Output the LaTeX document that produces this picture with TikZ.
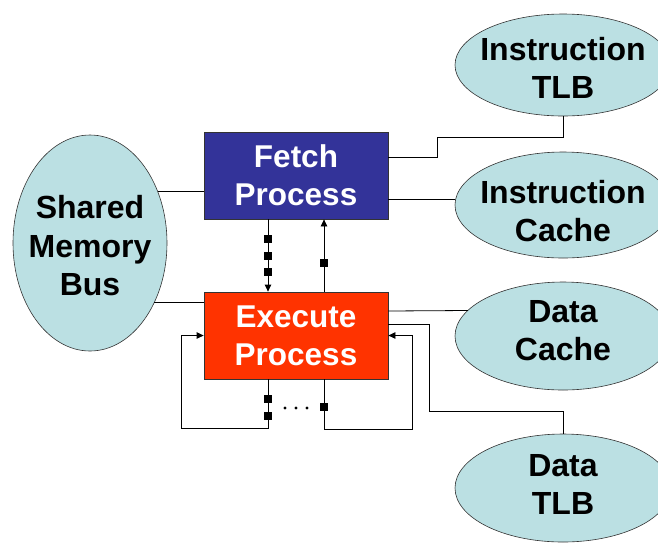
\documentclass[tikz,border=0pt]{standalone}
\usepackage{fontspec}
\setmainfont{Liberation Sans}
\usetikzlibrary{shapes.geometric,arrows.meta,calc}
\definecolor{unitcyan}{RGB}{187,224,227}
\definecolor{fetchblue}{RGB}{51,51,153}
\definecolor{execred}{RGB}{255,51,0}
\begin{document}
\begin{tikzpicture}[x=1pt,y=-1pt,
  wire/.style={line width=0.8pt,black},
  arr/.style={wire,-{Triangle[length=7pt,width=6.5pt]}},
  unit/.style={ellipse,draw=black!80,line width=0.6pt,fill=unitcyan,inner sep=0pt,outer sep=0pt},
  unitlabel/.style={font=\fontsize{32}{38}\selectfont\bfseries,align=center,text=black,inner sep=0pt},
  proc/.style={rectangle,draw=black!80,line width=0.8pt,minimum width=184pt,minimum height=87pt,
    inner sep=0pt,font=\fontsize{31.5}{38}\selectfont\bfseries,align=center,text=white},
  sq/.style={rectangle,fill=black,minimum size=8pt,inner sep=0pt}]
\useasboundingbox (0,0) rectangle (658,542);
\clip (0,0) rectangle (658,542);

% memory and translation/cache units
\node[unit,minimum width=154pt,minimum height=216pt] (smb) at (90,243) {};
\node[unit,minimum width=216pt,minimum height=102pt] (itlb) at (563,65) {};
\node[unit,minimum width=216pt,minimum height=106pt] (icache) at (563,205) {};
\node[unit,minimum width=216pt,minimum height=108pt] (dcache) at (563,336) {};
\node[unit,minimum width=216pt,minimum height=108pt] (dtlb) at (563,488) {};
\node[unitlabel,font=\fontsize{32}{38.5}\selectfont\bfseries] at ([yshift=-3pt]smb.center) {Shared\\Memory\\Bus};
\node[unitlabel] at ([yshift=-3pt]itlb.center) {Instruction\\TLB};
\node[unitlabel] at ([yshift=-6pt]icache.center) {Instruction\\Cache};
\node[unitlabel] at ([yshift=5pt]dcache.center) {Data\\Cache};
\node[unitlabel] at ([yshift=4pt]dtlb.center) {Data\\TLB};

% the two processes
\node[proc,fill=fetchblue] (fetch) at (296,175.5) {Fetch\\Process};
\node[proc,fill=execred] (exec) at (296,335.5) {Execute\\Process};

% bus connections
\draw[wire] (smb.37.6) -- (smb.37.6 -| fetch.west);
\draw[wire] (smb.-43.2) -- (smb.-43.2 -| exec.west);

% fetch side
\draw[wire] ([yshift=18.5pt]fetch.east) -| (437,137) -| (itlb.south);
\draw[wire] ([yshift=-23.5pt]fetch.east) -- ([yshift=6pt]icache.west);

% execute side
\draw[wire] ([yshift=24.5pt]exec.east) -- (dcache.165.3);
\draw[wire] ([yshift=11.5pt]exec.east) -| (429,411) -| (dtlb.north);

% fetch <-> execute
\draw[arr] ([xshift=-28pt]fetch.south) -- ([xshift=-28pt]exec.north)
  node[sq,pos=0.274]{} node[sq,pos=0.507]{} node[sq,pos=0.726]{};
\draw[arr] ([xshift=28pt]exec.north) -- ([xshift=28pt]fetch.south)
  node[sq,pos=0.397]{};

% execute feedback loops
\draw[arr] ([xshift=-28pt]exec.south) |- (181,428) |- (exec.west);
\draw[arr] ([xshift=28pt]exec.south) |- (412,429) |- (exec.east);
\node[sq] (sqa) at ([xshift=-28pt,yshift=-20pt]exec.south) {};
\node[sq] (sqb) at ([xshift=-28pt,yshift=-37pt]exec.south) {};
\node[sq] (sqc) at ([xshift=28pt,yshift=-28pt]exec.south) {};
\foreach \dx in {285,296,307} \fill (\dx,408) circle (1.6);
\end{tikzpicture}
\end{document}
